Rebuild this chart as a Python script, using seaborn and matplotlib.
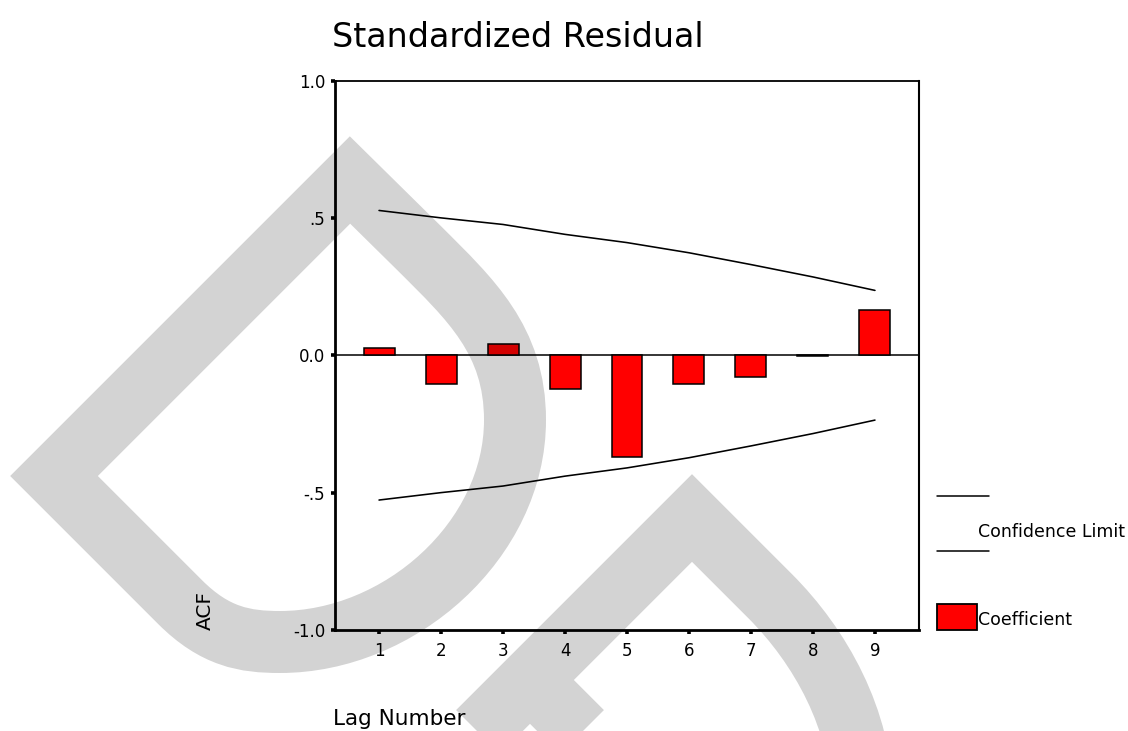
import numpy as np
import pandas as pd
import matplotlib
matplotlib.use("Agg")
import matplotlib.pyplot as plt
import seaborn as sns
from matplotlib.path import Path
from matplotlib.patches import PathPatch, Rectangle
from matplotlib.lines import Line2D

# ---------------- data ----------------
lags = [1, 2, 3, 4, 5, 6, 7, 8, 9]
acf_coef = [0.028, -0.106, 0.041, -0.122, -0.369, -0.106, -0.078, -0.003, 0.165]
conf_upper = [0.527, 0.500, 0.476, 0.440, 0.410, 0.373, 0.330, 0.285, 0.236]
conf_lower = [-0.527, -0.500, -0.476, -0.440, -0.410, -0.373, -0.330, -0.285, -0.236]
y_ticks = [-1.0, -0.5, 0.0, 0.5, 1.0]
y_tick_labels = ["-1.0", "-.5", "0.0", ".5", "1.0"]
x_tick_labels = [str(l) for l in lags]
title_text = "Standardized Residual"
x_label = "Lag Number"
y_label = "ACF"
legend_labels = ["Confidence Limit", "Coefficient"]

# ---------------- style ----------------
sns.set_theme(style="white")
plt.rcParams['font.family'] = ['DejaVu Sans']

W, H = 1128, 731
fig = plt.figure(figsize=(W / 100, H / 100), dpi=100)
fig.patch.set_facecolor("white")

def fx(x):
    return x / W

def fy(y):
    return 1 - y / H

ax_left, ax_right, ax_top, ax_bottom = 335, 919, 80.5, 630
ax = fig.add_axes([fx(ax_left), fy(ax_bottom), (ax_right - ax_left) / W, (ax_bottom - ax_top) / H])
ax.set_facecolor("white")

df = pd.DataFrame({"Lag": lags, "ACF": acf_coef})
sns.barplot(data=df, x="Lag", y="ACF", native_scale=True, width=0.5,
            color="#FF0000", saturation=1, edgecolor="black", linewidth=1.1,
            errorbar=None, ax=ax, zorder=3)

sns.lineplot(x=lags, y=conf_upper, color="black", linewidth=1.15, ax=ax, zorder=4)
sns.lineplot(x=lags, y=conf_lower, color="black", linewidth=1.15, ax=ax, zorder=4)
ax.axhline(0, color="black", linewidth=1.1, zorder=2)

ax.set_xlim(0.29, 9.71)
ax.set_ylim(-1, 1)
ax.set_xticks(lags)
ax.set_xticklabels(x_tick_labels)
ax.set_yticks(y_ticks)
ax.set_yticklabels(y_tick_labels)
ax.set_xlabel("")
ax.set_ylabel("")
ax.tick_params(axis="both", which="major", bottom=True, left=True, direction="out",
               length=3, width=2.6, color="black", labelcolor="black", labelsize=12)
ax.tick_params(axis="y", pad=4)
ax.tick_params(axis="x", pad=6)
for side, lw in [("left", 2.0), ("bottom", 2.0), ("top", 1.3), ("right", 1.5)]:
    ax.spines[side].set_visible(True)
    ax.spines[side].set_color("black")
    ax.spines[side].set_linewidth(lw)

# ---------------- texts ----------------
fig.text(fx(332), fy(47), title_text, fontsize=24, ha="left", va="baseline", color="black")
fig.text(fx(333), fy(725), x_label, fontsize=15.5, ha="left", va="baseline", color="black")
fig.text(fx(205), fy(630), y_label, fontsize=14.5, rotation=90, ha="center", va="bottom", color="black")

# ---------------- legend ----------------
for yy in (496, 551):
    fig.add_artist(Line2D([fx(937), fx(989)], [fy(yy), fy(yy)], color="black", linewidth=1.1,
                          transform=fig.transFigure))
fig.text(fx(978), fy(532), legend_labels[0], fontsize=12.5, ha="left", va="center", color="black")
fig.add_artist(Rectangle((fx(937), fy(630)), (977 - 937) / W, (630 - 604) / H,
                         facecolor="#FF0000", edgecolor="black", linewidth=1.3,
                         transform=fig.transFigure))
fig.text(fx(978), fy(620), legend_labels[1], fontsize=12.5, ha="left", va="center", color="black")

# ---------------- watermark (translucent overlay) ----------------
def P(x, y):
    return (fx(x), fy(y))

verts = [P(54, 476), P(180, 602),
         P(215, 637), P(245, 642), P(280, 642),
         P(400, 642), P(515, 540), P(515, 420),
         P(515, 340), P(470, 299), P(420, 249),
         P(350, 180), P(54, 476),
         P(420, 790), P(692, 518), P(770, 596),
         P(820, 646), P(862, 720), P(862, 800),
         P(530, 680), P(650, 800)]
codes = [Path.MOVETO, Path.LINETO,
         Path.CURVE4, Path.CURVE4, Path.CURVE4,
         Path.CURVE4, Path.CURVE4, Path.CURVE4,
         Path.CURVE4, Path.CURVE4, Path.CURVE4,
         Path.LINETO, Path.CLOSEPOLY,
         Path.MOVETO, Path.LINETO, Path.LINETO,
         Path.CURVE4, Path.CURVE4, Path.CURVE4,
         Path.MOVETO, Path.LINETO]
wm = PathPatch(Path(verts, codes), fill=False, edgecolor=(0, 0, 0, 0.1725),
               linewidth=62 * 72 / 100, joinstyle="miter", capstyle="butt",
               transform=fig.transFigure, zorder=100)
fig.add_artist(wm)

fig.savefig("out.png", dpi=100, facecolor="white")
